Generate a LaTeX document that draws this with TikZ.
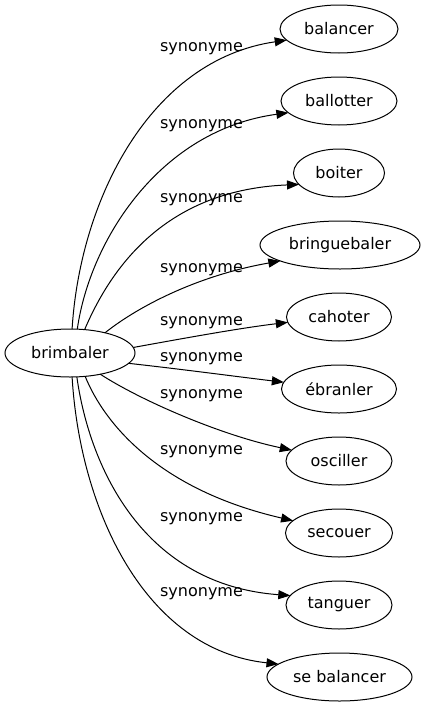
\documentclass[tikz,border=0pt]{standalone}
\usepackage{fontspec}
\setmainfont{DejaVu Sans}
\usetikzlibrary{shapes.geometric,arrows.meta}
\begin{document}
\begin{tikzpicture}[x=1pt,y=-1pt,
  every node/.style={font=\fontsize{16}{19}\selectfont},
  word/.style={ellipse,draw,line width=1pt,minimum height=48pt,inner sep=0pt,outer sep=0pt},
  lbl/.style={inner sep=0pt,outer sep=0pt},
  syn/.style={line width=1pt,-{Triangle[length=12pt,width=9pt]}}]
\useasboundingbox (0,0) rectangle (424,707);
% nodes
\node[word,minimum width=130pt] (src) at (70,353) {brimbaler};
\node[word,minimum width=118pt] (t1) at (339,29) {balancer};
\node[word,minimum width=116pt] (t2) at (339,101) {ballotter};
\node[word,minimum width=91pt] (t3) at (339,173) {boiter};
\node[word,minimum width=160pt] (t4) at (340,245) {bringuebaler};
\node[word,minimum width=105pt] (t5) at (339,317) {cahoter};
\node[word,minimum width=115pt] (t6) at (339,389) {ébranler};
\node[word,minimum width=106pt] (t7) at (339,461) {osciller};
\node[word,minimum width=107pt] (t8) at (339,533) {secouer};
\node[word,minimum width=106pt] (t9) at (339,605) {tanguer};
\node[word,minimum width=145pt] (t10) at (339.5,677) {se balancer};
% labels
\node[lbl] (l1) at (201.5,49) {synonyme};
\node[lbl] (l2) at (201.5,125.5) {synonyme};
\node[lbl] (l3) at (201.5,199.5) {synonyme};
\node[lbl] (l4) at (201.5,269.5) {synonyme};
\node[lbl] (l5) at (201.5,322.5) {synonyme};
\node[lbl] (l6) at (201.5,359) {synonyme};
\node[lbl] (l7) at (201.5,396) {synonyme};
\node[lbl] (l8) at (201.5,451.5) {synonyme};
\node[lbl] (l9) at (201.5,519) {synonyme};
\node[lbl] (l10) at (201.5,594) {synonyme};
% edges
\draw[syn] (src.85) .. controls (80,200) and (150,60) .. (t1.192);
\draw[syn] (src.73) .. controls (90,240) and (160,130) .. (t2.193);
\draw[syn] (src.58) .. controls (108,275) and (160,190) .. (t3.196);
\draw[syn] (src.30) .. controls (140,305) and (200,275) .. (t4.195);
\draw[syn] (src.5.5) .. controls (180,339) and (240,328) .. (t5.186.6);
\draw[syn] (src.-10.7) .. controls (180,369) and (240,377) .. (t6.173);
\draw[syn] (src.-35) .. controls (140,400) and (220,435) .. (t7.167);
\draw[syn] (src.-57) .. controls (105,425) and (160,490) .. (t8.165);
\draw[syn] (src.-74) .. controls (90,470) and (145,585) .. (t9.169.6);
\draw[syn] (src.-85) .. controls (80,510) and (145,650) .. (t10.168);
\end{tikzpicture}
\end{document}
